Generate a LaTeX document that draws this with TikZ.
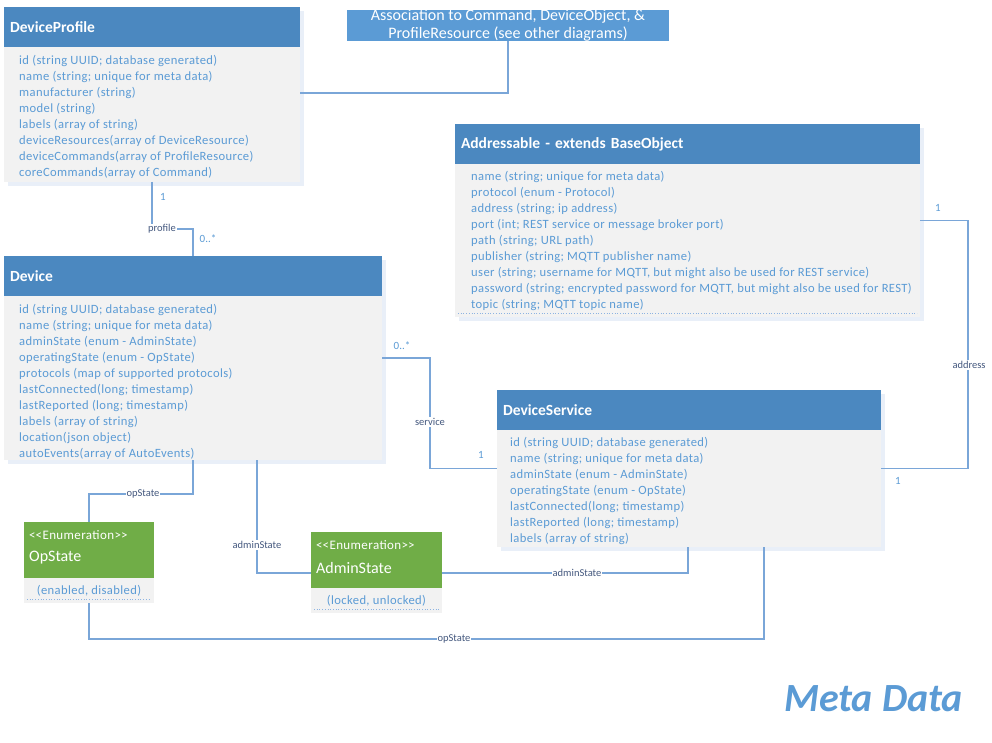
\documentclass[tikz,border=0pt]{standalone}
\usepackage{fontspec}
\setmainfont{Carlito}
\newfontfamily\spfont{Carlito}[LetterSpace=3]
\usetikzlibrary{shadows}
\definecolor{hdrc}{HTML}{4B88C0}
\definecolor{assc}{HTML}{5B9BD5}
\definecolor{bodyc}{HTML}{F2F2F2}
\definecolor{shadowc}{HTML}{E9EFF8}
\definecolor{txtc}{HTML}{5B9BD5}
\definecolor{connc}{HTML}{7AA6D8}
\definecolor{lblc}{HTML}{44587E}
\definecolor{grnc}{HTML}{70AD47}
\definecolor{dotc}{HTML}{8DB3E2}
\tikzset{
  clsbox/.style={fill=bodyc, anchor=north west, inner sep=0pt, outer sep=0pt,
    general shadow={fill=shadowc, shadow xshift=4pt, shadow yshift=-4pt}},
  hdrbox/.style={fill=hdrc, anchor=north west, inner ysep=0pt, inner xsep=6pt, outer sep=0pt,
    minimum height=40pt, align=left, text=white, font=\fontsize{15.5}{18}\bfseries\selectfont},
  attrs/.style={anchor=north west, inner sep=0pt, align=left, text=txtc, font=\spfont\fontsize{12.6}{16}\selectfont},
  conn/.style={draw=connc, line width=1.2pt},
  lbl/.style={fill=white, inner sep=1pt, text=lblc, font=\fontsize{10.5}{12}\selectfont},
  mult/.style={inner sep=0pt, text=txtc, font=\fontsize{11}{13}\selectfont},
  enumbox/.style={fill=grnc, anchor=north west, inner sep=0pt, outer sep=0pt},
  enumst/.style={anchor=west, inner sep=0pt, text=white, font=\spfont\fontsize{13}{15}\selectfont},
  enumnm/.style={anchor=west, inner sep=0pt, text=white, font=\fontsize{16}{18}\selectfont},
  enumbody/.style={fill=bodyc, anchor=north west, inner sep=0pt, outer sep=0pt, text=txtc, font=\spfont\fontsize{12.6}{15}\selectfont},
  dotline/.style={draw=dotc, dotted, line width=0.7pt}
}
\begin{document}
\begin{tikzpicture}[x=1pt,y=-1pt]
\useasboundingbox (0,0) rectangle (992,743);
\fill[white] (0,0) rectangle (992,743);

% ---------- DeviceProfile ----------
\node[clsbox, minimum width=296pt, minimum height=175pt] (dpc) at (4,7) {};
\node[hdrbox, text width=284pt] (dph) at (4,7) {DeviceProfile};
\node[attrs] (dpa) at (19,54.7) {id (string UUID; database generated)\\
name (string; unique for meta data)\\
manufacturer (string)\\
model (string)\\
labels (array of string)\\
deviceResources(array of DeviceResource)\\
deviceCommands(array of ProfileResource)\\
coreCommands(array of Command)};

% ---------- Association ----------
\node[fill=assc, anchor=north west, inner sep=0pt, outer sep=0pt, minimum width=322pt, minimum height=31pt] (asc) at (347,10) {};
\node[align=center, inner sep=0pt, text=white, font=\fontsize{16}{18}\selectfont] (ast) at (508,25) {Association to Command, DeviceObject, \&\\ProfileResource (see other diagrams)};

% ---------- Addressable ----------
\node[clsbox, minimum width=465pt, minimum height=193pt] (adc) at (455,124) {};
\node[hdrbox, text width=453pt] (adh) at (455,124) {Addressable - extends BaseObject};
\node[attrs] (ada) at (471,170.7) {name (string; unique for meta data)\\
protocol (enum - Protocol)\\
address (string; ip address)\\
port (int; REST service or message broker port)\\
path (string; URL path)\\
publisher (string; MQTT publisher name)\\
user (string; username for MQTT, but might also be used for REST service)\\
password (string; encrypted password for MQTT, but might also be used for REST)\\
topic (string; MQTT topic name)};
\draw[dotline] ([shift={(3,-4)}]adc.south west) -- ([shift={(-3,-4)}]adc.south east);

% ---------- Device ----------
\node[clsbox, minimum width=378pt, minimum height=204pt] (dvc) at (4,256) {};
\node[hdrbox, text width=366pt] (dvh) at (4,256) {Device};
\node[attrs] (dva) at (19,303.7) {id (string UUID; database generated)\\
name (string; unique for meta data)\\
adminState (enum - AdminState)\\
operatingState (enum - OpState)\\
protocols (map of supported protocols)\\
lastConnected(long; timestamp)\\
lastReported (long; timestamp)\\
labels (array of string)\\
location(json object)\\
autoEvents(array of AutoEvents)};

% ---------- DeviceService ----------
\node[clsbox, minimum width=384pt, minimum height=157pt] (dsc) at (497,390) {};
\node[hdrbox, text width=372pt] (dsh) at (497,390) {DeviceService};
\node[attrs] (dsa) at (510,436.7) {id (string UUID; database generated)\\
name (string; unique for meta data)\\
adminState (enum - AdminState)\\
operatingState (enum - OpState)\\
lastConnected(long; timestamp)\\
lastReported (long; timestamp)\\
labels (array of string)};

% ---------- OpState ----------
\node[enumbox, minimum width=130pt, minimum height=56pt] (opg) at (24,522) {};
\node[enumst] (opst) at (29,535) {<\kern0pt<Enumeration>\kern0pt>};
\node[enumnm] (opnm) at (29,558) {OpState};
\node[enumbody, minimum width=130pt, minimum height=25pt] (opb) at (24,578) {(enabled, disabled)};
\draw[dotline] ([shift={(3,-4)}]opb.south west) -- ([shift={(-3,-4)}]opb.south east);

% ---------- AdminState ----------
\node[enumbox, minimum width=131pt, minimum height=56pt] (adg) at (311,532) {};
\node[enumst] (adst) at (316,545) {<\kern0pt<Enumeration>\kern0pt>};
\node[enumnm] (adnm) at (316,568) {AdminState};
\node[enumbody, minimum width=131pt, minimum height=25pt] (adb) at (311,588) {(locked, unlocked)};
\draw[dotline] ([shift={(3,-4)}]adb.south west) -- ([shift={(-3,-4)}]adb.south east);

% ---------- connectors ----------
\draw[conn] ([yshift=1.5pt]dpc.east) -| (asc.south);
\draw[conn] ([xshift=148pt]dpc.south west) -- ++(0,47) -| ([xshift=189pt]dvc.north west);
\node[lbl] (lprof) at (162,229) {profile};
\node[mult] (m1) at (163,197) {1};
\node[mult] (m2) at (208,239) {0..*};

\draw[conn] (dvc.east) -- ++(48,0) |- (dsc.west);
\node[lbl] (lserv) at (430,422) {service};
\node[mult] (m3) at (402,346) {0..*};
\node[mult] (m4) at (481,455) {1};

\draw[conn] (adc.east) -- ++(48,0) |- (dsc.east);
\node[lbl] (laddr) at (969,365) {address};
\node[mult] (m5) at (938,208) {1};
\node[mult] (m6) at (898,481) {1};

\draw[conn] ([xshift=189pt]dvc.south west) -- ++(0,34) -| (opg.north);
\node[lbl] (lop1) at (143,494) {opState};

\draw[conn] ([xshift=253pt]dvc.south west) |- ([yshift=-13pt]adg.west);
\node[lbl] (lad1) at (257,545) {adminState};

\draw[conn] ([xshift=191pt]dsc.south west) |- ([yshift=-13pt]adg.east);
\node[lbl] (lad2) at (577,573) {adminState};

\draw[conn] ([xshift=267pt]dsc.south west) |- ([yshift=-36pt]opb.south) -- (opb.south);
\node[lbl] (lop2) at (454,639) {opState};

% ---------- title ----------
\node[anchor=base west, inner sep=0pt, text=txtc, font=\fontsize{40}{48}\bfseries\itshape\selectfont] (meta) at (784,711) {Meta Data};
\end{tikzpicture}
\end{document}
